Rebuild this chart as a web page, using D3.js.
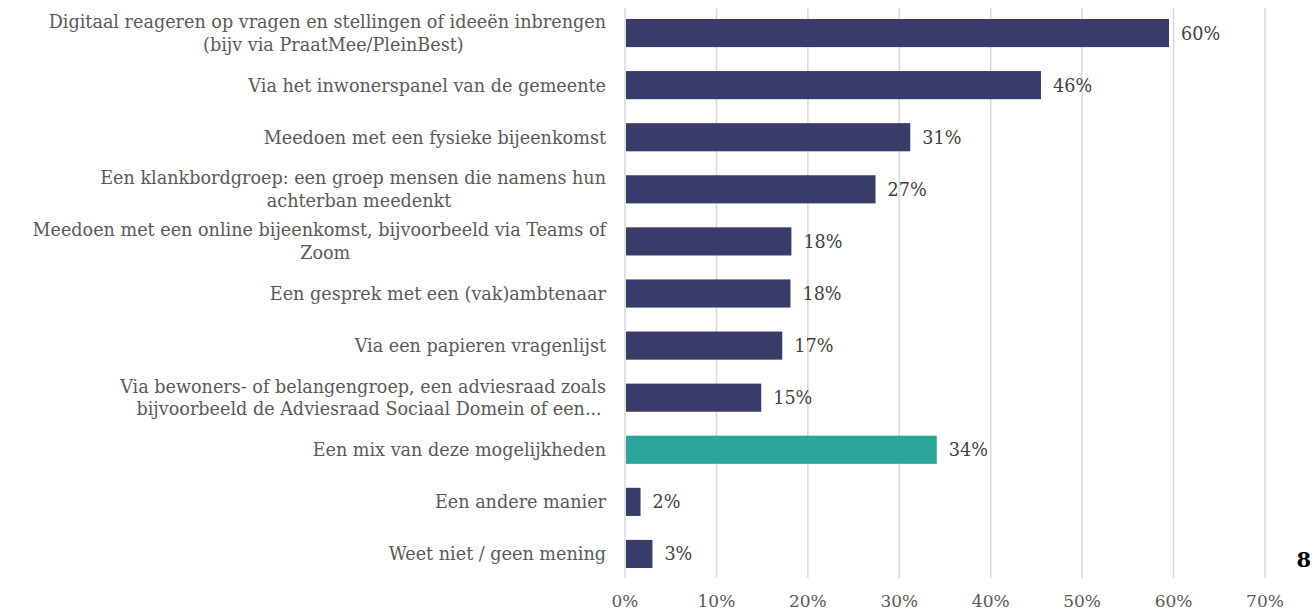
<!DOCTYPE html>
<html><head><meta charset="utf-8">
<script src="https://cdn.jsdelivr.net/npm/d3@7"></script>
<style>
body{margin:0;background:#fff;}
svg{display:block;}
text{font-family:"DejaVu Serif",serif;}
</style></head>
<body>
<svg id="chart" width="1312" height="613"></svg>
<script>
const categories = [
  ["Digitaal reageren op vragen en stellingen of ideeën inbrengen","(bijv via PraatMee/PleinBest)"],
  ["Via het inwonerspanel van de gemeente"],
  ["Meedoen met een fysieke bijeenkomst"],
  ["Een klankbordgroep: een groep mensen die namens hun","achterban meedenkt"],
  ["Meedoen met een online bijeenkomst, bijvoorbeeld via Teams of","Zoom"],
  ["Een gesprek met een (vak)ambtenaar"],
  ["Via een papieren vragenlijst"],
  ["Via bewoners- of belangengroep, een adviesraad zoals","bijvoorbeeld de Adviesraad Sociaal Domein of een..."],
  ["Een mix van deze mogelijkheden"],
  ["Een andere manier"],
  ["Weet niet / geen mening"]
];
const values = [59.5, 45.5, 31.2, 27.4, 18.2, 18.1, 17.2, 14.9, 34.1, 1.7, 3.0];
const valueLabels = ["60%","46%","31%","27%","18%","18%","17%","15%","34%","2%","3%"];
const highlight = [false,false,false,false,false,false,false,false,true,false,false];
const ticks = [0,10,20,30,40,50,60,70];
const pageNumber = "8";

const FS = 17.6;
const svg = d3.select("#chart");
const x = d3.scaleLinear().domain([0,70]).range([625,1265]);
const y = d3.scaleBand().domain(d3.range(categories.length)).range([7,580]).paddingInner(0.46).paddingOuter(0.23);

svg.append("g").selectAll("line").data(ticks).join("line")
  .attr("x1",d=>x(d)).attr("x2",d=>x(d)).attr("y1",8).attr("y2",578)
  .attr("stroke","#d9d9d9").attr("stroke-width",1.5);

svg.append("g").selectAll("text").data(ticks).join("text")
  .attr("x",d=>x(d)).attr("y",607).attr("text-anchor","middle")
  .attr("font-size",17).attr("fill","#595959").text(d=>d+"%");

svg.append("g").selectAll("rect").data(values).join("rect")
  .attr("x",x(0)+1).attr("y",(d,i)=>y(i)).attr("width",d=>x(d)-x(0)-1).attr("height",y.bandwidth())
  .attr("fill",(d,i)=>highlight[i]?"#2aa59a":"#383c68");

svg.append("g").selectAll("text").data(values).join("text")
  .attr("x",d=>x(d)+12).attr("y",(d,i)=>y(i)+y.bandwidth()/2+6.5)
  .attr("font-size",FS).attr("fill","#404040").text((d,i)=>valueLabels[i]);

const lg = svg.append("g");
categories.forEach((lines,i)=>{
  const cy = y(i)+y.bandwidth()/2;
  if(lines.length===1){
    lg.append("text").attr("x",606).attr("y",cy+6.5).attr("text-anchor","end")
      .attr("font-size",FS).attr("fill","#595959").text(lines[0]);
  } else {
    const t1 = lg.append("text").attr("x",606).attr("y",cy-5).attr("text-anchor","end")
      .attr("font-size",FS).attr("fill","#595959").text(lines[0]);
    const w = t1.node().getComputedTextLength();
    lg.append("text").attr("x",606-w/2+6).attr("y",cy+17.5).attr("text-anchor","middle")
      .attr("font-size",FS).attr("fill","#595959").text(lines[1]);
  }
});

svg.append("text").attr("x",1311).attr("y",567).attr("text-anchor","end")
  .attr("font-size",21).attr("font-weight","bold").attr("fill","#000").text(pageNumber);
</script>
</body></html>
